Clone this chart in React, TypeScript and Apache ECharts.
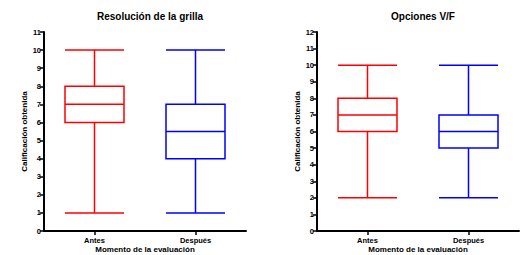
import React, { useEffect, useRef } from "react";
import * as echarts from "echarts";

const categories = ["Antes", "Después"];
const leftTitle = "Resolución de la grilla";
const rightTitle = "Opciones V/F";
// [min, Q1, median, Q3, max]
const leftAntes = [1, 6, 7, 8, 10];
const leftDespues = [1, 4, 5.5, 7, 10];
const rightAntes = [2, 6, 7, 8, 10];
const rightDespues = [2, 5, 6, 7, 10];
const leftMax = 11;
const rightMax = 12;
const yName = "Calificación obtenida";
const xName = "Momento de la evaluación";
const colors = ["#ff0000", "#0000ff"];

const FONT = "Liberation Sans, Arial, sans-serif";

export default function App() {
  const ref = useRef<HTMLDivElement>(null);
  useEffect(() => {
    const chart = echarts.init(ref.current!, null, { renderer: "svg" });
    const axisLine = { lineStyle: { color: "#000", width: 2 } };
    const tick = { show: true, length: 4, lineStyle: { color: "#000", width: 1.5 } };
    const xAxis = (gi: number) => ({
      type: "category",
      gridIndex: gi,
      data: categories,
      axisLine,
      axisTick: { ...tick, alignWithLabel: true },
      axisLabel: { color: "#000", fontSize: 7.5, fontWeight: "bold", fontFamily: FONT, margin: 5 },
      name: xName,
      nameLocation: "middle",
      nameGap: 14,
      nameMoveOverlap: false,
      nameTextStyle: { color: "#000", fontSize: 8, lineHeight: 8, fontWeight: "bold", fontFamily: FONT },
      splitLine: { show: false },
    });
    const yAxis = (gi: number, max: number) => ({
      type: "value",
      gridIndex: gi,
      min: 0,
      max,
      interval: 1,
      axisLine: { show: true, ...axisLine },
      axisTick: tick,
      axisLabel: { color: "#000", fontSize: 7.5, fontWeight: "bold", fontFamily: FONT, margin: 3 },
      splitLine: { show: false },
      name: yName,
      nameLocation: "middle",
      nameGap: 16,
      nameMoveOverlap: false,
      nameTextStyle: { color: "#000", fontSize: 8, fontWeight: "bold", fontFamily: FONT },
    });
    const mk = (gi: number, a: number[], d: number[]) => ({
      type: "boxplot",
      xAxisIndex: gi,
      yAxisIndex: gi,
      boxWidth: [59, 59],
      data: [
        { value: a, itemStyle: { color: "transparent", borderColor: colors[0], borderWidth: 1.5 } },
        { value: d, itemStyle: { color: "transparent", borderColor: colors[1], borderWidth: 1.5 } },
      ],
    });
    chart.setOption({
      animation: false,
      backgroundColor: "#fff",
      title: [
        {
          text: leftTitle,
          left: 145,
          top: 6,
          textAlign: "center",
          textStyle: { fontSize: 10, fontWeight: "bold", fontFamily: FONT, color: "#000" },
        },
        {
          text: rightTitle,
          left: 418,
          top: 6,
          textAlign: "center",
          textStyle: { fontSize: 10, fontWeight: "bold", fontFamily: FONT, color: "#000" },
        },
      ],
      grid: [
        { left: 44, width: 202, top: 32, height: 199, outerBoundsMode: "none", containLabel: false },
        { left: 317, width: 202, top: 32, height: 199, outerBoundsMode: "none", containLabel: false },
      ],
      xAxis: [xAxis(0), xAxis(1)],
      yAxis: [yAxis(0, leftMax), yAxis(1, rightMax)],
      series: [mk(0, leftAntes, leftDespues), mk(1, rightAntes, rightDespues)],
    });
    return () => chart.dispose();
  }, []);
  return (
    <div
      ref={ref}
      style={{ position: "fixed", left: 0, top: 0, width: 522, height: 255 }}
    />
  );
}
